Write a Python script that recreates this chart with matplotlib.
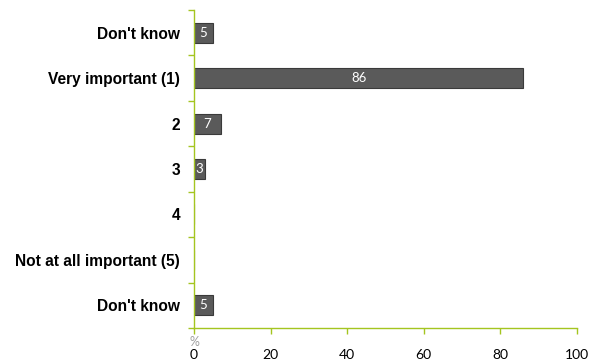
import matplotlib
matplotlib.use("Agg")
import matplotlib.pyplot as plt

categories = ["Don't know", "Very important (1)", "2", "3", "4", "Not at all important (5)", "Don't know"]
values = [5, 86, 7, 3, 0, 0, 5]
xticks = [0, 20, 40, 60, 80, 100]

axis_color = "#A4C520"
bar_color = "#5A5A5A"

fig = plt.figure(figsize=(5.92, 3.63), dpi=100)
ax = fig.add_axes([194/592, 35/363, (577-194)/592, (328-10)/363])

n = len(categories)
ypos = list(range(n))
bars = ax.barh(ypos, values, height=0.44, color=bar_color, edgecolor="#3A3A3A", linewidth=0.8)
ax.set_ylim(n - 0.5, -0.5)
ax.set_xlim(0, 100)

for y, v in zip(ypos, values):
    if v > 0:
        ax.text(v / 2, y, str(v), ha="center", va="center", color="white",
                fontsize=9.5, family="Lato")

ax.set_yticks([i - 0.5 for i in range(n + 1)], minor=False)
ax.set_yticklabels([])
ax.set_yticks(ypos, minor=True)
ax.set_yticklabels(categories, minor=True, fontsize=11.2, fontweight="bold", family="Liberation Sans")
ax.tick_params(axis="y", which="minor", length=0, pad=10)
ax.tick_params(axis="y", which="major", length=4, color=axis_color, width=1)

ax.set_xticks(xticks)
ax.set_xticklabels([str(t) for t in xticks], fontsize=10, family="Lato")
ax.tick_params(axis="x", length=4, color=axis_color, width=1, pad=11)

for s in ["top", "right"]:
    ax.spines[s].set_visible(False)
for s in ["left", "bottom"]:
    ax.spines[s].set_color(axis_color)
    ax.spines[s].set_linewidth(1)

ax.text(0, -0.025, "%", transform=ax.transAxes, ha="center", va="top", color="#A0A0A0",
        fontsize=9, family="Lato")

fig.savefig("out.png", dpi=100)
